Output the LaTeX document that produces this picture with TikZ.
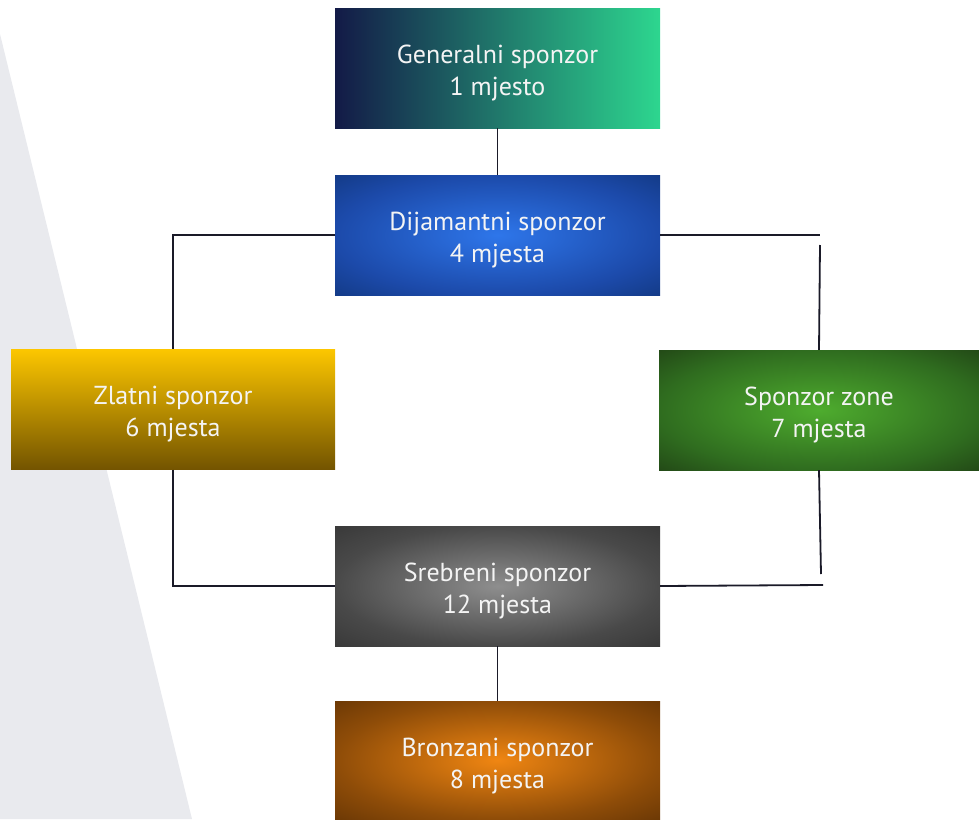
\documentclass[tikz,border=0pt]{standalone}
\usepackage{fontspec}
\setmainfont{PT Sans}
\definecolor{bggray}{HTML}{E9EAEE}
\definecolor{linec}{HTML}{1A1A28}
\definecolor{txt}{HTML}{F4F4F4}
\definecolor{genL}{HTML}{131A47}
\definecolor{genR}{HTML}{2DD68F}
\definecolor{blueI}{HTML}{2E76EA}
\definecolor{blueM}{HTML}{1C4AAA}
\definecolor{blueO}{HTML}{133A86}
\definecolor{goldT}{HTML}{FCC600}
\definecolor{goldB}{HTML}{735400}
\definecolor{greenI}{HTML}{4EAC2E}
\definecolor{greenM}{HTML}{2F6C1F}
\definecolor{greenO}{HTML}{224816}
\definecolor{grayI}{HTML}{8E8E8E}
\definecolor{grayM}{HTML}{494949}
\definecolor{grayO}{HTML}{383838}
\definecolor{orI}{HTML}{F08612}
\definecolor{orM}{HTML}{8E4C08}
\definecolor{orO}{HTML}{6B3805}
\pgfdeclareradialshading{rblue}{\pgfpoint{0bp}{0bp}}{color(0bp)=(blueI); color(25bp)=(blueM); color(36bp)=(blueO); color(71bp)=(blueO)}
\pgfdeclareradialshading{rgreen}{\pgfpoint{0bp}{0bp}}{color(0bp)=(greenI); color(25bp)=(greenM); color(36bp)=(greenO); color(71bp)=(greenO)}
\pgfdeclareradialshading{rgray}{\pgfpoint{0bp}{0bp}}{color(0bp)=(grayI); color(25bp)=(grayM); color(36bp)=(grayO); color(71bp)=(grayO)}
\pgfdeclareradialshading{rorange}{\pgfpoint{0bp}{0bp}}{color(0bp)=(orI); color(25bp)=(orM); color(36bp)=(orO); color(71bp)=(orO)}
\tikzset{
  box/.style={rectangle, minimum width=325pt, minimum height=120pt, inner sep=0pt,
    text height=87pt, text depth=33pt,
    text=txt, font=\fontsize{26}{32}\selectfont, align=center},
  conn/.style={draw=linec, line width=1.8pt}
}
\begin{document}
\begin{tikzpicture}[x=1pt,y=-1pt]
\useasboundingbox (0,0) rectangle (979,819);
\fill[bggray] (0,34) -- (192,819) -- (0,819) -- cycle;

\node[box, left color=genL, right color=genR] (gen) at (497.5,68) {Generalni sponzor\\1 mjesto};
\node[box, shading=rblue] (dia) at (497.5,235) {Dijamantni sponzor\\4 mjesta};
\node[box, top color=goldT, bottom color=goldB, minimum width=324pt] (zl) at (173,409.5) {Zlatni sponzor\\6 mjesta};
\node[box, shading=rgreen, minimum width=320pt] (sz) at (819,410) {Sponzor zone\\7 mjesta};
\node[box, shading=rgray] (sr) at (497.5,586) {Srebreni sponzor\\12 mjesta};
\node[box, shading=rorange, minimum height=118pt, text depth=31pt] (br) at (497.5,760) {Bronzani sponzor\\8 mjesta};

\coordinate (r1) at (820,235);
\coordinate (r2) at (820,245);
\coordinate (r3) at (821,574);
\coordinate (r4) at (823,585);

\draw[conn] (gen.south) -- (dia.north);
\draw[conn] (dia.west) -| (zl.north);
\draw[conn] (zl.south) |- (sr.west);
\draw[conn] (dia.east) -- (r1);
\draw[conn] (r2) -- (sz.north);
\draw[conn] (sz.south) -- (r3);
\draw[conn] (sr.east) -- (r4);
\draw[conn] (sr.south) -- (br.north);
\end{tikzpicture}
\end{document}
